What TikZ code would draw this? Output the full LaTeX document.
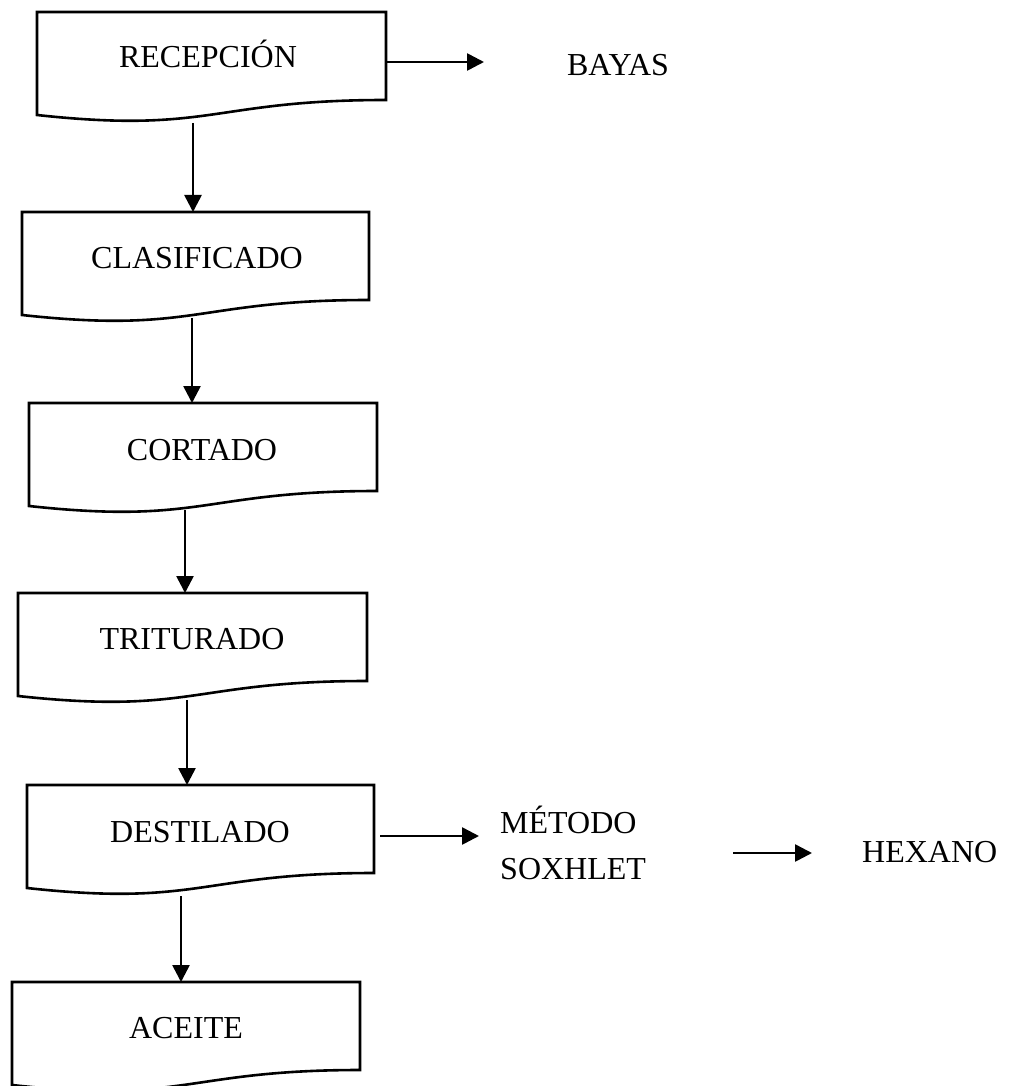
\documentclass[tikz,border=0pt]{standalone}
\usepackage{fontspec}
\setmainfont{Liberation Serif}
\usetikzlibrary{arrows.meta}
\tikzset{
  docline/.style={line width=2.6pt, line join=miter},
  arr/.style={line width=2.6pt, -{Triangle[length=17pt,width=17pt]}},
  lbl/.style={anchor=base, inner sep=0pt, font=\fontsize{32}{38}\selectfont},
  lblw/.style={anchor=base west, inner sep=0pt, font=\fontsize{32}{38}\selectfont},
}
% #1 name, #2 left x, #3 top y, #4 right x
\newcommand\docbox[4]{%
  \draw[docline] (#2,#3) -- (#4,#3) -- (#4,#3+88)
    .. controls ({(#2+#4)/2},#3+88) and ({(#2+#4)/2},#3+122) .. (#2,#3+103) -- cycle;
  \coordinate (#1-nw) at (#2,#3);
  \coordinate (#1-ne) at (#4,#3);
}
\begin{document}
\begin{tikzpicture}[x=1pt,y=-1pt]
\useasboundingbox (0,0) rectangle (1025,1086);
\docbox{b1}{37}{12}{386}
\docbox{b2}{22}{212}{369}
\docbox{b3}{29}{403}{377}
\docbox{b4}{18}{593}{367}
\docbox{b5}{27}{785}{374}
\docbox{b6}{12}{982}{360}

\node[lbl] (rec) at (208,68) {RECEPCIÓN};
\node[lbl] (cla) at (197,268) {CLASIFICADO};
\node[lbl] (cor) at (202,460) {CORTADO};
\node[lbl] (tri) at (192,649) {TRITURADO};
\node[lbl] (des) at (200,842) {DESTILADO};
\node[lbl] (ace) at (186,1038) {ACEITE};
\node[lbl] (bay) at (618,76) {BAYAS};
\node[lblw] (met) at (500,833) {MÉTODO};
\node[lblw] (sox) at (500,879) {SOXHLET};
\node[lblw] (hex) at (862,862) {HEXANO};

% connector end points
\coordinate (b1-out) at (193,123);
\coordinate (b2-in) at (193,212);
\coordinate (b2-out) at (192,318);
\coordinate (b3-in) at (192,403);
\coordinate (b3-out) at (185,510);
\coordinate (b4-in) at (185,593);
\coordinate (b4-out) at (187,700);
\coordinate (b5-in) at (187,785);
\coordinate (b5-out) at (181,896);
\coordinate (b6-in) at (181,982);
\coordinate (b1-r) at (386,62);
\coordinate (bay-in) at (484,62);
\coordinate (b5-r) at (380,836);
\coordinate (met-in) at (479,836);
\coordinate (mid-s) at (733,853);
\coordinate (mid-e) at (812,853);

\draw[arr] (b1-out) -- (b2-in);
\draw[arr] (b2-out) -- (b3-in);
\draw[arr] (b3-out) -- (b4-in);
\draw[arr] (b4-out) -- (b5-in);
\draw[arr] (b5-out) -- (b6-in);
\draw[arr] (b1-r) -- (bay-in);
\draw[arr] (b5-r) -- (met-in);
\draw[arr] (mid-s) -- (mid-e);
\end{tikzpicture}
\end{document}
